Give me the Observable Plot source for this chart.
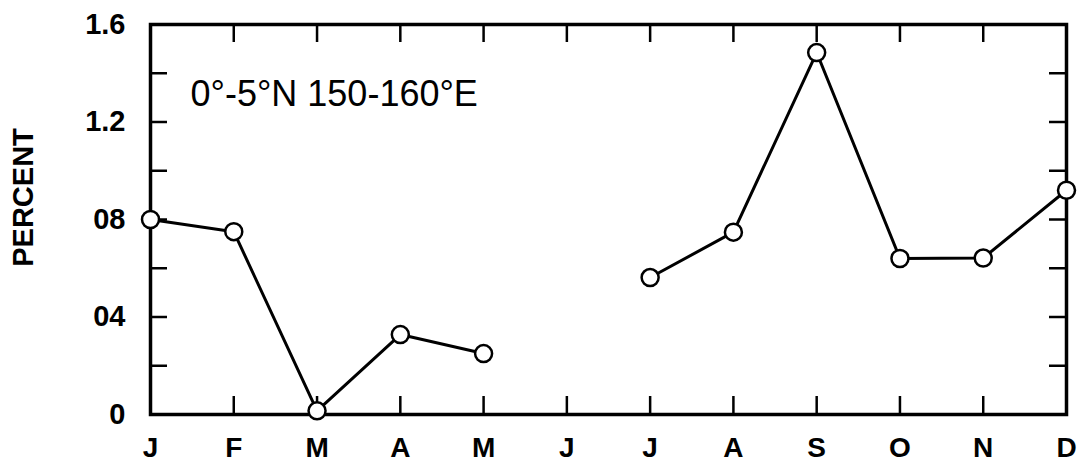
<!DOCTYPE html>
<html><head><meta charset="utf-8">
<script src="https://cdn.jsdelivr.net/npm/d3@7"></script>
<script src="https://cdn.jsdelivr.net/npm/@observablehq/plot@0.6"></script>
<style>html,body{margin:0;padding:0;background:#fff}</style>
</head><body><div id="chart"></div>
<script>
const months = ["J","F","M","A","M","J","J","A","S","O","N","D"];
const percent = [0.80, 0.75, 0.015, 0.328, 0.25, null, 0.562, 0.748, 1.485, 0.64, 0.642, 0.92];
const yTicks = [0, 0.4, 0.8, 1.2, 1.6];
const yTickLabels = ["0", "04", "08", "1.2", "1.6"];
const yMinorTicks = [0, 0.2, 0.4, 0.6, 0.8, 1.0, 1.2, 1.4, 1.6];
const title = "0°-5°N 150-160°E";
const yLabel = "PERCENT";

const table = months.map((m, i) => ({i, m, v: percent[i]}));
const idx = table.map(d => d.i);
const font = "'Liberation Sans', Arial, sans-serif";

const chart = Plot.plot({
  width: 1079, height: 463,
  marginLeft: 150, marginRight: 13, marginTop: 24, marginBottom: 49,
  style: {fontFamily: font, background: "#fff", color: "#000", overflow: "visible"},
  x: {type: "linear", domain: [0, 11], label: null},
  y: {domain: [0, 1.6], label: null},
  marks: [
    Plot.tickX(table, {x: "i", insetTop: 372, stroke: "#000", strokeWidth: 2.5}),
    Plot.tickX(table, {x: "i", insetBottom: 372, stroke: "#000", strokeWidth: 2.5}),
    Plot.tickY(yMinorTicks, {y: d => d, insetRight: 899, stroke: "#000", strokeWidth: 2.5}),
    Plot.tickY(yMinorTicks, {y: d => d, insetLeft: 899, stroke: "#000", strokeWidth: 2.5}),
    Plot.frame({stroke: "#000", strokeWidth: 3.5}),
    Plot.line(table, {x: "i", y: "v", stroke: "#000", strokeWidth: 3}),
    Plot.dot(table, {x: "i", y: "v", r: 8.5, fill: "#fff", stroke: "#000", strokeWidth: 2.5}),
    Plot.axisX(idx, {anchor: "bottom", tickSize: 0, tickPadding: 23, tickFormat: i => months[i], fontSize: 28, fontWeight: "bold", label: null}),
    Plot.axisY(yTicks, {anchor: "left", tickSize: 0, tickPadding: 25, tickFormat: d => yTickLabels[yTicks.indexOf(d)], fontSize: 29, fontWeight: "bold", label: null}),
    Plot.text([title], {text: d => d, frameAnchor: "top-left", dx: 40, dy: 70, textAnchor: "start", lineAnchor: "middle", fontSize: 36, fill: "#000"}),
    Plot.text([yLabel], {text: d => d, frameAnchor: "left", dx: -127, dy: -22, rotate: -90, textAnchor: "middle", lineAnchor: "middle", fontSize: 29, fontWeight: "bold", fill: "#000"})
  ]
});
document.getElementById("chart").appendChild(chart);
</script>
</body></html>
